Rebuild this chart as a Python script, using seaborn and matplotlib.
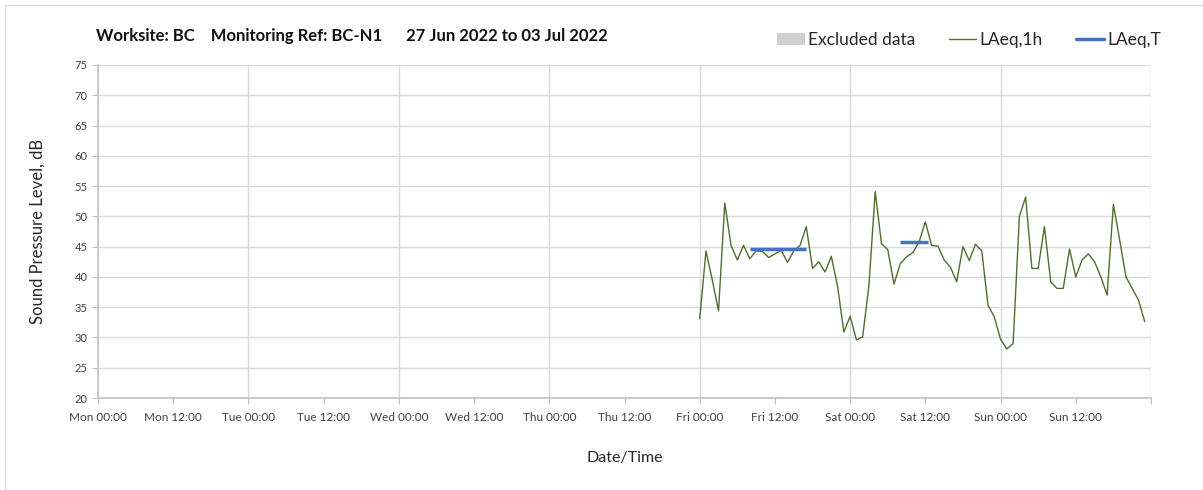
import numpy as np
import pandas as pd
import matplotlib
matplotlib.use('Agg')
import matplotlib.pyplot as plt
from matplotlib.lines import Line2D
from matplotlib.patches import Patch
import seaborn as sns

# ── Data ────────────────────────────────────────────────────────────────────
week_start = pd.Timestamp('2022-06-27 00:00')   # Mon
data_start = pd.Timestamp('2022-07-01 00:00')   # Fri

# hourly LAeq,1h from Fri 00:00 to Sun 23:00
laeq_1h = [
    33.1, 44.3, 39.5, 34.4, 52.2, 45.2, 42.8, 45.2, 43.0, 44.3, 44.2, 43.2,
    43.8, 44.4, 42.4, 44.3, 45.2, 48.3, 41.4, 42.5, 40.8, 43.4, 38.4, 30.9,
    33.5, 29.6, 30.1, 38.6, 54.1, 45.5, 44.5, 38.8, 42.2, 43.3, 44.0, 45.8,
    49.1, 45.2, 45.1, 42.8, 41.6, 39.2, 45.0, 42.7, 45.4, 44.3, 35.3, 33.4,
    29.7, 28.1, 29.0, 50.0, 53.2, 41.4, 41.4, 48.3, 39.2, 38.1, 38.1, 44.6,
    40.0, 42.8, 43.8, 42.5, 40.0, 37.0, 52.0, 46.1, 40.0, 38.1, 36.2, 32.6,
]
# LAeq,T periods: (start hour, end hour, level) counted from Fri 00:00
laeq_t_start = [8, 32]
laeq_t_end = [17, 36.4]
laeq_t_level = [44.6, 45.7]

df = pd.DataFrame({
    'time': data_start + pd.to_timedelta(np.arange(len(laeq_1h)), unit='h'),
    'LAeq,1h': laeq_1h,
})

# ── Style ───────────────────────────────────────────────────────────────────
sns.set_style('white')
plt.rcParams['font.family'] = ['Lato', 'DejaVu Sans']
green = '#4E6E2E'
blue = '#4472C4'
grid_c = '#D9D9D9'
axis_c = '#BFBFBF'

fig = plt.figure(figsize=(12.03, 4.90), dpi=100)
ax = fig.add_axes([98 / 1203, 1 - 398 / 490, (1151 - 98) / 1203, (398 - 65) / 490])

sns.lineplot(data=df, x='time', y='LAeq,1h', ax=ax, color=green, lw=1.0)
for s, e, lv in zip(laeq_t_start, laeq_t_end, laeq_t_level):
    ax.plot([data_start + pd.Timedelta(hours=s), data_start + pd.Timedelta(hours=e)],
            [lv, lv], color=blue, lw=2.5, solid_capstyle='butt')

ax.set_xlim(week_start, week_start + pd.Timedelta(days=7))
ax.set_ylim(20, 75)
ax.set_yticks(np.arange(20, 76, 5))

ticks = [week_start + pd.Timedelta(hours=12 * i) for i in range(15)]
ax.set_xticks(ticks)
ax.set_xticklabels([t.strftime('%a %H:%M') for t in ticks[:-1]] + [''])
ax.tick_params(axis='x', labelsize=8.5, colors='#404040', length=4, color=axis_c,
               direction='out', pad=6, bottom=True)
ax.tick_params(axis='y', labelsize=8, colors='#404040', length=4, color=axis_c,
               direction='out', left=True)

# grid: every 5 dB horizontally, every day vertically
ax.grid(False)
for v in range(25, 76, 5):
    ax.axhline(v, color=grid_c, lw=1.0, zorder=0)
for d in range(1, 8):
    ax.axvline(week_start + pd.Timedelta(days=d), color=grid_c, lw=1.0, zorder=0)

for side in ['top', 'right']:
    ax.spines[side].set_visible(False)
for side in ['left', 'bottom']:
    ax.spines[side].set_color(axis_c)
    ax.spines[side].set_linewidth(1.2)

ax.set_xlabel('Date/Time', fontsize=11.5, color='#262626', labelpad=20)
ax.set_ylabel('Sound Pressure Level, dB', fontsize=12, color='#262626', labelpad=21)

fig.text(96 / 1203, 1 - 36 / 490,
         'Worksite: BC    Monitoring Ref: BC-N1      27 Jun 2022 to 03 Jul 2022',
         fontsize=12, fontweight='bold', color='#111111', va='center')

handles = [
    Patch(facecolor='#D0D0D0', edgecolor='none'),
    Line2D([], [], color=green, lw=1.0),
    Line2D([], [], color=blue, lw=2.5),
]
fig.legend(handles, ['Excluded data', 'LAeq,1h', 'LAeq,T'], loc='center right',
           bbox_to_anchor=(1161 / 1203, 1 - 40 / 490), ncol=3, frameon=False,
           fontsize=12.5, handlelength=1.6, handleheight=0.75, columnspacing=1.9,
           handletextpad=0.2, labelcolor='#262626', borderaxespad=0, borderpad=0)

# faint frame around the chart area
fig.add_artist(Line2D([5 / 1203, 5 / 1203], [0, 1 - 5 / 490], color='#E0E0E0', lw=1,
                      transform=fig.transFigure))
fig.add_artist(Line2D([5 / 1203, 1], [1 - 5 / 490, 1 - 5 / 490], color='#E0E0E0', lw=1,
                      transform=fig.transFigure))

fig.savefig('out.png', dpi=100)
